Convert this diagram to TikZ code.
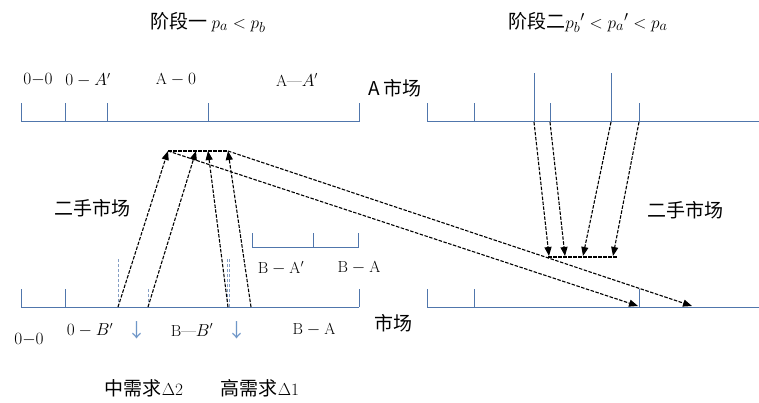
\documentclass[tikz,border=0pt]{standalone}
\usepackage{amsmath}
\usepackage{fontspec}
\newfontfamily\cjk{Noto Sans CJK SC}
\usetikzlibrary{arrows,arrows.meta,calc,positioning}
\definecolor{axisblue}{RGB}{80,118,172}
\definecolor{downblue}{RGB}{110,150,200}

\begin{document}
\begin{tikzpicture}[x=1pt,y=-1pt,
    axis/.style={axisblue,line width=1pt},
    flow/.style={dashed,dash pattern=on 3.5pt off 1.5pt,line width=1.1pt},
    tip/.style={-{Triangle[length=9pt,width=7pt]}},
    lab/.style={font=\fontsize{16}{18}\selectfont},
    cn/.style={font=\cjk\fontsize{19}{22}\selectfont}]
  \useasboundingbox (0,0) rectangle (759,403);
  % titles
  \node[cn] (ttl1) at (208,22) {阶段一 $p_a<p_b$};
  \node[cn] (ttl2) at (588,22) {阶段二$p_b{}'<p_a{}'<p_a$};
  % market lines
  \draw[axis] (21,122) -- (359,122) (427,122) -- (759,122);
  \draw[axis] (21,307) -- (359,307) (427,307) -- (759,307);
  \foreach \x in {21,65,107,208,359,427,474,550,639} {
    \draw[axis] (\x,122) -- (\x,103);
  }
  \foreach \x in {534,611} {
    \draw[axis] (\x,122) -- (\x,73);
  }
  \foreach \x in {21,65,359,427,474,639} {
    \draw[axis] (\x,307) -- (\x,289);
  }
  \foreach \x/\t in {118/258,148/288,227/258,229/258} {
    \draw[axisblue!70,line width=0.5pt,densely dashed] (\x,307) -- (\x,\t);
  }
  \draw[axis] (252,233) -- (252,247) -- (358,247) -- (358,233) (313,247) -- (313,233);
  % labels
  \node[lab] (l00) at (38,80) {$0{-}0$};
  \node[lab] (l0a) at (88,80) {$0-A'$};
  \node[lab] (la0) at (176,80) {$\mathrm{A}-0$};
  \node[lab] (laa) at (297,80) {$\mathrm{A}{\text{---}}A'$};
  \node[cn] (mka) at (395,88) {A 市场};
  \node[cn] (mkb) at (393,323) {市场};
  \node[cn] (sh1) at (92,208) {二手市场};
  \node[cn] (sh2) at (685,210) {二手市场};
  \node[lab] (lba1) at (281,268) {$\mathrm{B}-\mathrm{A}'$};
  \node[lab] (lba2) at (359,268) {$\mathrm{B}-\mathrm{A}$};
  \node[lab] (lb00) at (29,340) {$0{-}0$};
  \node[lab] (lb0b) at (90,330) {$0-B'$};
  \node[lab] (lbbb) at (192,330) {$\mathrm{B}{\text{---}}B'$};
  \node[lab] (lbba) at (314,330) {$\mathrm{B}-\mathrm{A}$};
  \node[cn,text=downblue] (dn2) at (137,330) {↓};
  \node[cn,text=downblue] (dn1) at (237,330) {↓};
  \node[cn] (mid) at (144,388) {中需求$\Delta2$};
  \node[cn] (high) at (260,388) {高需求$\Delta1$};
  % points of the flows
  \coordinate (b1) at (118,307);
  \coordinate (b2) at (148,307);
  \coordinate (b3) at (228,307);
  \coordinate (b4) at (251,307);
  \coordinate (p1) at (168,151);
  \coordinate (p2) at (196,151);
  \coordinate (p3) at (208,151);
  \coordinate (p4) at (228,151);
  \coordinate (u1) at (534,122);
  \coordinate (u2) at (550,122);
  \coordinate (u3) at (611,122);
  \coordinate (u4) at (639,122);
  \coordinate (q1) at (549,256);
  \coordinate (q2) at (565,256);
  \coordinate (q3) at (583,256);
  \coordinate (q4) at (613,256);
  \coordinate (r1) at (638,306);
  \coordinate (r2) at (692,306);
  % flows
  \foreach \i in {1,...,4} {
    \draw[flow,tip] (b\i) -- (p\i);
    \draw[flow,tip] (u\i) -- (q\i);
  }
  \draw[flow] (p1) -- (p4);
  \draw[flow] ($(q1)+(-1,1)$) -- ($(q4)+(5,1)$);
  \draw[flow,tip] (p1) -- (r1);
  \draw[flow,tip] (p4) -- (r2);
\end{tikzpicture}
\end{document}
